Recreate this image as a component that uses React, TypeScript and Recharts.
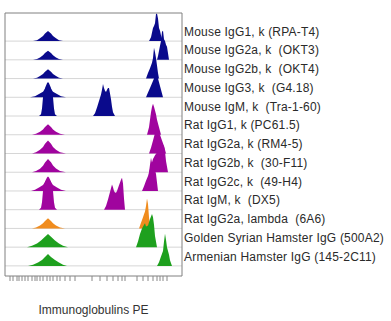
import {
  ComposedChart,
  Area,
  XAxis,
  YAxis,
  CartesianGrid,
  ReferenceArea
} from 'recharts';

// row labels, top to bottom
const rowLabels = [
  'Mouse IgG1, k (RPA-T4)',
  'Mouse IgG2a, k  (OKT3)',
  'Mouse IgG2b, k  (OKT4)',
  'Mouse IgG3, k  (G4.18)',
  'Mouse IgM, k  (Tra-1-60)',
  'Rat IgG1, k (PC61.5)',
  'Rat IgG2a, k (RM4-5)',
  'Rat IgG2b, k  (30-F11)',
  'Rat IgG2c, k  (49-H4)',
  'Rat IgM, k  (DX5)',
  'Rat IgG2a, lambda  (6A6)',
  'Golden Syrian Hamster IgG (500A2)',
  'Armenian Hamster IgG (145-2C11)'
];

const rowColors = [
  '#0a0a8c', '#0a0a8c', '#0a0a8c', '#0a0a8c', '#0a0a8c',
  '#a0049e', '#a0049e', '#a0049e', '#a0049e', '#a0049e',
  '#f08c1e', '#1ea01e', '#1ea01e'
];

// isotype control histograms [channel, count]
const isotype: number[][][] = [
  [[28, 0], [32, 5], [35, 15], [38, 27], [40, 40], [43, 54], [46, 40], [48, 27], [51, 15], [54, 5], [58, 0]],
  [[28, 0], [32, 5], [35, 13], [38, 24], [40, 36], [43, 48], [46, 36], [48, 24], [51, 13], [54, 5], [58, 0]],
  [[28, 0], [32, 5], [35, 14], [38, 25], [40, 37], [43, 50], [46, 37], [48, 25], [51, 14], [54, 5], [58, 0]],
  [[25, 0], [30, 6], [34, 17], [38, 30], [40, 45], [43, 60], [46, 45], [48, 30], [52, 17], [56, 6], [61, 0]],
  [[34, 0], [36, 10], [37, 40], [38, 100], [40, 150], [42, 175], [43, 182], [44, 175], [46, 150], [48, 100], [49, 40], [50, 10], [52, 0]],
  [[27, 0], [31, 6], [35, 16], [38, 28], [40, 42], [43, 56], [46, 42], [48, 28], [51, 16], [55, 6], [60, 0]],
  [[27, 0], [31, 7], [35, 20], [38, 35], [40, 52], [43, 70], [46, 52], [48, 35], [51, 20], [55, 7], [61, 0]],
  [[27, 0], [31, 7], [35, 19], [38, 34], [40, 52], [43, 70], [46, 53], [48, 36], [51, 20], [55, 7], [61, 0]],
  [[26, 0], [30, 6], [34, 18], [38, 32], [40, 48], [43, 64], [46, 48], [48, 32], [52, 18], [56, 6], [61, 0]],
  [[34, 0], [36, 10], [37, 40], [38, 100], [40, 150], [42, 172], [43, 177], [44, 172], [46, 150], [48, 100], [49, 40], [50, 10], [52, 0]],
  [[27, 0], [31, 5], [35, 15], [38, 27], [40, 40], [43, 54], [46, 40], [48, 27], [51, 15], [55, 5], [60, 0]],
  [[22, 0], [27, 7], [32, 20], [36, 35], [40, 55], [43, 70], [46, 55], [50, 35], [54, 20], [58, 7], [63, 0]],
  [[23, 0], [28, 6], [33, 18], [37, 32], [40, 48], [43, 64], [46, 48], [50, 32], [54, 18], [58, 6], [62, 0]]
];

// stained sample histograms [channel, count]
const stained: number[][][] = [
  [[144, 0], [146, 20], [148, 70], [149, 80], [150, 95], [151, 145], [152, 148], [153, 120], [154, 70], [155, 55], [156, 30], [158, 0]],
  [[152, 0], [153, 20], [155, 75], [156, 100], [157, 150], [158, 155], [159, 110], [160, 100], [161, 80], [162, 70], [163, 35], [164, 0]],
  [[141, 0], [143, 30], [145, 55], [147, 85], [148, 110], [149, 165], [150, 140], [151, 110], [152, 70], [153, 30], [154, 0]],
  [[141, 0], [143, 25], [145, 50], [147, 75], [149, 100], [150, 125], [151, 134], [152, 120], [154, 80], [156, 40], [158, 0]],
  [[88, 0], [90, 15], [92, 45], [94, 80], [96, 115], [97, 140], [98, 171], [99, 150], [100, 135], [101, 128], [102, 140], [103, 150], [104, 150], [105, 120], [106, 90], [107, 50], [108, 20], [110, 0]],
  [[142, 0], [144, 40], [145, 80], [146, 120], [147, 150], [148, 166], [149, 150], [150, 130], [151, 110], [152, 80], [154, 40], [156, 0]],
  [[144, 0], [146, 30], [148, 70], [150, 110], [151, 125], [152, 130], [153, 125], [155, 100], [157, 70], [159, 40], [161, 0]],
  [[144, 0], [146, 35], [148, 70], [150, 90], [152, 105], [154, 120], [156, 135], [158, 145], [159, 138], [160, 110], [161, 60], [163, 0]],
  [[137, 0], [139, 25], [141, 55], [143, 80], [144, 100], [145, 140], [146, 177], [147, 150], [148, 110], [149, 105], [150, 112], [151, 90], [152, 45], [153, 0]],
  [[99, 0], [101, 20], [103, 55], [105, 95], [106, 115], [107, 134], [108, 120], [109, 100], [110, 92], [111, 91], [112, 100], [114, 130], [116, 160], [117, 171], [118, 140], [119, 60], [120, 0]],
  [[134, 0], [136, 30], [138, 60], [139, 75], [140, 90], [141, 120], [142, 160], [143, 130], [144, 60], [145, 20], [146, 0]],
  [[131, 0], [133, 30], [135, 70], [137, 100], [139, 120], [140, 128], [141, 110], [143, 115], [145, 150], [147, 177], [148, 160], [149, 120], [150, 60], [152, 0]],
  [[152, 0], [154, 20], [156, 50], [158, 80], [159, 130], [160, 171], [161, 140], [162, 100], [164, 60], [165, 30], [167, 0]]
];

const xTicks = [
  5, 8, 12, 14, 17, 20, 23, 27, 30, 32, 35, 38, 42, 45, 48, 52, 55, 60, 65, 70,
  87, 95, 102, 108, 113, 117, 120, 132, 138, 143, 148, 152, 155, 158, 162
];

const ROW = 100;
const nRows = rowLabels.length;
const baseOf = (i: number) => (nRows - 1 - i) * ROW;
const baselines = rowLabels.map((_, i) => baseOf(i));
const labelTicks = rowLabels.map((_, i) => baseOf(i) + ROW / 2);

const series = rowLabels.map((_, i) =>
  [...isotype[i], ...stained[i]].map(([x, c]) => ({ x, y: [baseOf(i), baseOf(i) + c] }))
);

const font = '"Liberation Sans", Arial, sans-serif';

function RowTick({ x, y, payload }: any) {
  const idx = labelTicks.indexOf(payload.value);
  return (
    <text x={x} y={y} dy={4} textAnchor="start" fontSize={12} letterSpacing={0.2} fill="#2a2a2a"
      fontFamily={font} style={{ whiteSpace: 'pre' }}>
      {rowLabels[idx]}
    </text>
  );
}

export default function App() {
  return (
    <div style={{ position: 'absolute', left: 0, top: 0, width: 391, height: 321, background: '#fff' }}>
      <ComposedChart width={391} height={321} margin={{ top: 13, left: 5, right: 9, bottom: 5 }}>
        <CartesianGrid horizontalValues={baselines} vertical={false} stroke="#d6d6d6" />
        <XAxis
          type="number"
          dataKey="x"
          domain={[0, 177]}
          allowDataOverflow
          ticks={xTicks}
          interval={0}
          tickFormatter={() => ''}
          tickSize={5}
          tickLine={{ stroke: '#888' }}
          axisLine={false}
          height={40}
          label={{ value: 'Immunoglobulins PE', position: 'insideBottom', offset: 2, fontSize: 12, fill: '#333', fontFamily: font }}
        />
        <YAxis
          yAxisId={0}
          orientation="right"
          type="number"
          domain={[-54, 1350]}
          allowDataOverflow
          ticks={labelTicks}
          interval={0}
          tick={<RowTick />}
          tickSize={0}
          tickMargin={2}
          tickLine={false}
          axisLine={false}
          width={200}
        />
        {series.map((d, i) => (
          <Area
            key={i}
            data={d}
            dataKey="y"
            type="linear"
            fill={rowColors[i]}
            fillOpacity={1}
            stroke="none"
            isAnimationActive={false}
            dot={false}
            activeDot={false}
          />
        ))}
        <ReferenceArea x1={0} x2={177} y1={-54} y2={1350} fill="none" stroke="#808080" strokeWidth={1} ifOverflow="visible" />
      </ComposedChart>
    </div>
  );
}
